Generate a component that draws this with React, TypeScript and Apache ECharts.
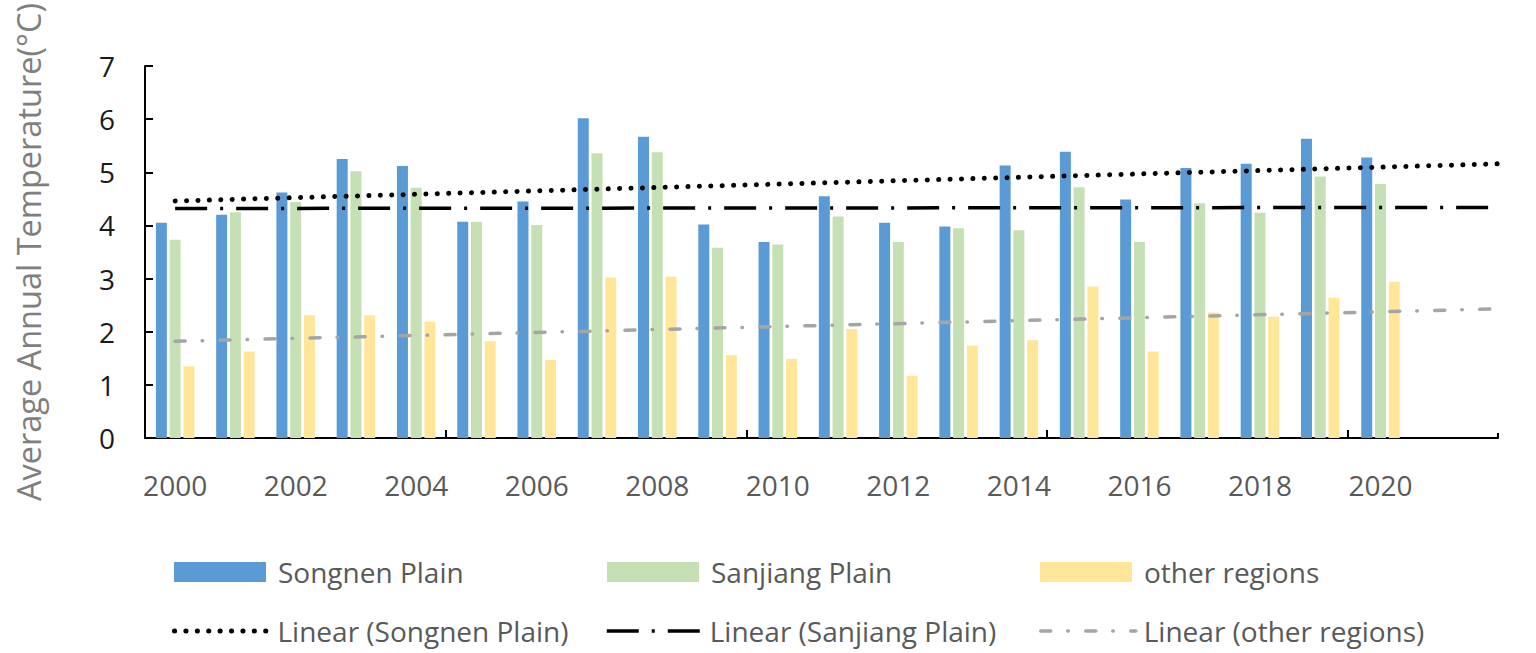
import React, { useEffect, useRef } from "react";
import * as echarts from "echarts";

const years = [2000, 2001, 2002, 2003, 2004, 2005, 2006, 2007, 2008, 2009, 2010, 2011, 2012, 2013, 2014, 2015, 2016, 2017, 2018, 2019, 2020];
const labelYears = [2000, 2002, 2004, 2006, 2008, 2010, 2012, 2014, 2016, 2018, 2020];
const songnen = [4.05, 4.2, 4.62, 5.25, 5.12, 4.07, 4.45, 6.02, 5.67, 4.02, 3.69, 4.55, 4.05, 3.98, 5.13, 5.39, 4.49, 5.08, 5.16, 5.63, 5.28];
const sanjiang = [3.73, 4.25, 4.44, 5.02, 4.71, 4.07, 4.01, 5.36, 5.38, 3.58, 3.64, 4.17, 3.69, 3.95, 3.91, 4.72, 3.69, 4.42, 4.24, 4.92, 4.78];
const other = [1.35, 1.63, 2.31, 2.31, 2.19, 1.82, 1.47, 3.02, 3.04, 1.56, 1.49, 2.05, 1.17, 1.74, 1.84, 2.85, 1.63, 2.36, 2.28, 2.64, 2.94];
const trendX = [2000, 2021.95];
const songnenTrend = [4.46, 5.16];
const sanjiangTrend = [4.32, 4.34];
const otherTrend = [1.82, 2.43];
const xMin = 1999.5;
const xMax = 2021.95;
const xTickSteps = 9;

const FONT = "Open Sans";

export default function App() {
  const ref = useRef<HTMLDivElement>(null);
  useEffect(() => {
    if (!ref.current) return;
    const chart = echarts.init(ref.current, null, { renderer: "svg" });
    const step = (xMax - xMin) / xTickSteps;
    const allTicks = Array.from({ length: xTickSteps + 1 }, (_, k) => xMin + k * step);
    const oddTicks = allTicks.filter((_, k) => k % 2 === 1);
    const evenTicks = allTicks.filter((_, k) => k % 2 === 0);

    const songnenLine = { color: "#000000", width: 5, type: [0.1, 11.3], cap: "round" };
    const sanjiangLine = { color: "#000000", width: 3.5, type: [32, 13, 3, 13], cap: "butt" };
    const otherLine = { color: "#A5A5A5", width: 3.5, type: [10, 17, 0.5, 17.5], cap: "round" };

    const barText = { fontSize: 28, color: "#595959", fontFamily: FONT, padding: [0, 0, 0, 7] };
    const lineText = { fontSize: 28, color: "#595959", fontFamily: FONT, padding: [0, 0, 0, 3] };
    const barLegend = (name: string, left: number) => ({
      data: [name], left, top: 558, itemWidth: 92, itemHeight: 20, padding: 0, icon: "rect",
      textStyle: barText, selectedMode: false,
    });
    const lineLegend = (name: string, left: number, ls: any) => ({
      data: [name], left, top: 617, itemWidth: 95, itemHeight: 20, padding: 0,
      textStyle: lineText, selectedMode: false,
      lineStyle: { width: ls.width, type: ls.type, cap: ls.cap, color: ls.color },
      itemStyle: { opacity: 0 },
    });

    chart.setOption({
      animation: false,
      backgroundColor: "#ffffff",
      grid: { left: 145, right: 38, top: 64, bottom: 215, containLabel: false },
      legend: [
        barLegend("Songnen Plain", 174),
        barLegend("Sanjiang Plain", 607),
        barLegend("other regions", 1040),
        lineLegend("Linear (Songnen Plain)", 172, songnenLine),
        lineLegend("Linear (Sanjiang Plain)", 605, sanjiangLine),
        lineLegend("Linear (other regions)", 1039, otherLine),
      ],
      xAxis: [
        {
          type: "value",
          min: xMin,
          max: xMax,
          position: "bottom",
          axisLine: { show: true, lineStyle: { color: "#000000", width: 2 } },
          axisTick: { show: true, inside: true, length: 5, customValues: oddTicks, lineStyle: { color: "#000000", width: 2 } },
          axisLabel: {
            customValues: labelYears,
            formatter: (v: number) => String(Math.round(v)),
            fontSize: 28,
            color: "#595959",
            fontFamily: FONT,
            margin: 33,
          },
          splitLine: { show: false },
        },
        {
          type: "value",
          min: xMin,
          max: xMax,
          position: "bottom",
          axisLine: { show: false },
          axisTick: { show: true, inside: true, length: 8, customValues: evenTicks, lineStyle: { color: "#000000", width: 2 } },
          axisLabel: { show: false },
          splitLine: { show: false },
        },
      ],
      yAxis: {
        type: "value",
        min: 0,
        max: 7,
        interval: 1,
        name: "Average Annual Temperature(°C)",
        nameLocation: "middle",
        nameGap: 100,
        nameRotate: 90,
        nameTextStyle: { fontSize: 32.5, color: "#7F7F7F", fontFamily: FONT },
        axisLine: { show: true, lineStyle: { color: "#000000", width: 2 } },
        axisTick: { show: true, inside: true, length: 8, lineStyle: { color: "#000000", width: 2 } },
        axisLabel: { fontSize: 28, color: "#1A1A1A", fontFamily: FONT, margin: 30 },
        splitLine: { show: false },
      },
      series: [
        {
          name: "Songnen Plain", type: "bar", xAxisIndex: 0,
          data: years.map((y, i) => [y, songnen[i]]),
          barWidth: 11, barGap: "25%",
          itemStyle: { color: "#5B9BD5" },
        },
        {
          name: "Sanjiang Plain", type: "bar", xAxisIndex: 0,
          data: years.map((y, i) => [y, sanjiang[i]]),
          barWidth: 11, barGap: "25%",
          itemStyle: { color: "#C5E0B4" },
        },
        {
          name: "other regions", type: "bar", xAxisIndex: 0,
          data: years.map((y, i) => [y, other[i]]),
          barWidth: 11, barGap: "25%",
          itemStyle: { color: "#FFE699" },
        },
        {
          name: "Linear (Songnen Plain)", type: "line", xAxisIndex: 0, symbol: "none", z: 5,
          data: trendX.map((x, i) => [x, songnenTrend[i]]),
          lineStyle: songnenLine,
        },
        {
          name: "Linear (Sanjiang Plain)", type: "line", xAxisIndex: 0, symbol: "none", z: 5,
          data: trendX.map((x, i) => [x, sanjiangTrend[i]]),
          lineStyle: sanjiangLine,
        },
        {
          name: "Linear (other regions)", type: "line", xAxisIndex: 0, symbol: "none", z: 5,
          data: trendX.map((x, i) => [x, otherTrend[i]]),
          lineStyle: otherLine,
        },
      ],
    });
    return () => chart.dispose();
  }, []);
  return <div ref={ref} style={{ position: "fixed", left: 0, top: 0, width: 1536, height: 653, background: "#fff" }} />;
}
